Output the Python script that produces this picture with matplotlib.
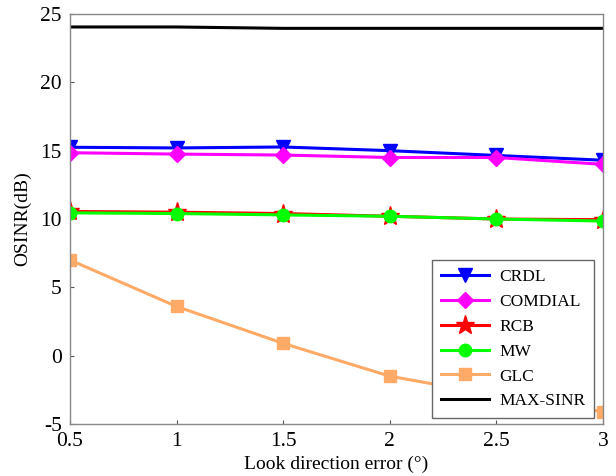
import matplotlib
matplotlib.use("Agg")
import matplotlib.pyplot as plt

x = [0.5, 1.0, 1.5, 2.0, 2.5, 3.0]
crdl = [15.25, 15.2, 15.27, 15.0, 14.65, 14.3]
comdial = [14.85, 14.75, 14.68, 14.5, 14.5, 14.0]
rcb = [10.55, 10.5, 10.4, 10.2, 10.0, 9.95]
mw = [10.45, 10.4, 10.3, 10.2, 10.0, 9.85]
glc = [7.0, 3.6, 0.9, -1.5, -2.9, -4.1]
max_sinr = [24.05, 24.05, 23.95, 23.95, 23.95, 23.95]

xticks = [0.5, 1, 1.5, 2, 2.5, 3]
xticklabels = ["0.5", "1", "1.5", "2", "2.5", "3"]
yticks = [-5, 0, 5, 10, 15, 20, 25]

plt.rcParams["font.family"] = ["Liberation Serif", "DejaVu Serif"]
plt.rcParams["axes.unicode_minus"] = False

fig = plt.figure(figsize=(6.16, 4.76), dpi=100)
ax = fig.add_axes([0.1136, 0.1092, 0.8654, 0.8614])

ax.plot(x, crdl, color="#0000ff", lw=2.2, marker="v", ms=10, label="CRDL")
ax.plot(x, comdial, color="#ff00ff", lw=2.2, marker="D", ms=8, label="COMDIAL")
ax.plot(x, rcb, color="#ff0000", lw=2.2, marker="*", ms=14, label="RCB")
ax.plot(x, mw, color="#00ff00", lw=2.2, marker="o", ms=9, label="MW")
ax.plot(x, glc, color="#ffaa66", lw=2.2, marker="s", ms=9, label="GLC")
ax.plot(x, max_sinr, color="black", lw=2.2, label="MAX-SINR")

ax.set_xlim(0.5, 3)
ax.set_ylim(-5, 25)
ax.set_xticks(xticks)
ax.set_xticklabels(xticklabels)
ax.set_yticks(yticks)
ax.tick_params(direction="in", length=3, labelsize=15.5, colors="black", color="#555555")
ax.tick_params(axis="x", pad=6)
ax.tick_params(axis="y", pad=6)
for s in ax.spines.values():
    s.set_color("#888888")
    s.set_linewidth(1.0)

ax.set_xlabel("Look direction error (°)", fontsize=14, labelpad=3)
ax.set_ylabel("OSINR(dB)", fontsize=14, labelpad=6)

leg = ax.legend(loc="lower right", fontsize=12.5, fancybox=False, framealpha=1,
                edgecolor="#666666", handlelength=2.75, handletextpad=0.6,
                borderpad=0.5, labelspacing=0.5, borderaxespad=0,
                bbox_to_anchor=(0.983, 0.0146))
leg.get_frame().set_linewidth(1.0)

fig.savefig("out.png", dpi=100)
